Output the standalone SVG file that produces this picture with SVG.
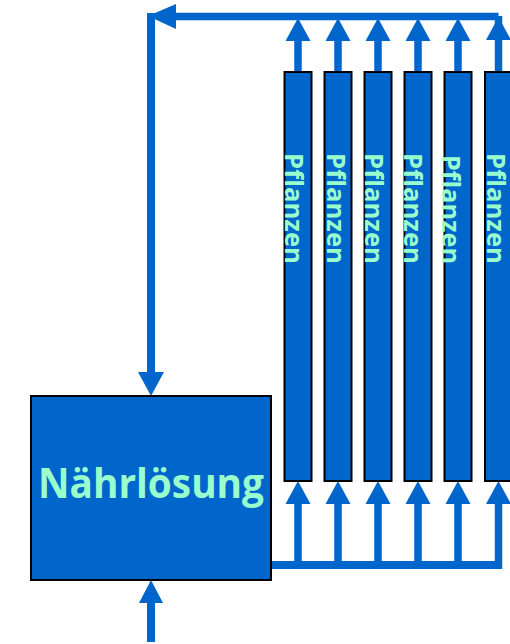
<svg xmlns="http://www.w3.org/2000/svg" width="510" height="644" viewBox="0 0 510 644">
<style>
.ln{stroke:#0066CC;stroke-width:7.5;fill:none}
.ah{fill:#0066CC}
.col{fill:#0066CC;stroke:#000;stroke-width:2}
.pt{font-family:"Open Sans","Liberation Sans",Arial,sans-serif;font-weight:bold;font-size:25px;fill:#99FFCC}
.bt{font-family:"Open Sans","Liberation Sans",Arial,sans-serif;font-weight:bold;font-size:42px;fill:#99FFCC}
</style>
<defs>
<polygon id="up" class="ah" points="-12.5,23 12.5,23 0,0"/>
</defs>
<g id="connectors">
<line class="ln" x1="170" y1="16.5" x2="498.5" y2="16.5"/>
<polygon class="ah" points="148,16 176,4 176,29"/>
<line class="ln" x1="151" y1="13" x2="151" y2="374" style="stroke-width:8"/>
<polygon class="ah" points="138,372 164,372 151,396"/>
<g>
<line class="ln" x1="298" y1="40" x2="298" y2="72"/>
<line class="ln" x1="338" y1="40" x2="338" y2="72"/>
<line class="ln" x1="378" y1="40" x2="378" y2="72"/>
<line class="ln" x1="418" y1="40" x2="418" y2="72"/>
<line class="ln" x1="458" y1="40" x2="458" y2="72"/>
<line class="ln" x1="498.5" y1="16" x2="498.5" y2="72"/>
<use href="#up" x="298" y="18"/>
<use href="#up" x="338" y="18"/>
<use href="#up" x="378" y="18"/>
<use href="#up" x="418" y="18"/>
<use href="#up" x="458" y="18"/>
<use href="#up" x="498.5" y="17"/>
</g>
<line class="ln" x1="270" y1="565" x2="498.5" y2="565" style="stroke-width:8"/>
<g>
<line class="ln" x1="298" y1="503" x2="298" y2="565"/>
<line class="ln" x1="338" y1="503" x2="338" y2="565"/>
<line class="ln" x1="378" y1="503" x2="378" y2="565"/>
<line class="ln" x1="418" y1="503" x2="418" y2="565"/>
<line class="ln" x1="458" y1="503" x2="458" y2="565"/>
<line class="ln" x1="498.5" y1="503" x2="498.5" y2="569"/>
<use href="#up" x="298" y="481"/>
<use href="#up" x="338" y="481"/>
<use href="#up" x="378" y="481"/>
<use href="#up" x="418" y="481"/>
<use href="#up" x="458" y="481"/>
<use href="#up" x="498.5" y="481"/>
</g>
<line class="ln" x1="151" y1="601" x2="151" y2="642" style="stroke-width:8"/>
<polygon class="ah" points="139,603 163,603 151,580"/>
</g>
<g id="box">
<rect x="31" y="396" width="240" height="184" fill="#0066CC" stroke="#000" stroke-width="2"/>
<text class="bt" x="151" y="498" text-anchor="middle" textLength="226" lengthAdjust="spacingAndGlyphs">Nährlösung</text>
</g>
<g id="p1"><rect class="col" x="284.5" y="72" width="27" height="409"/><text class="pt" transform="translate(285,153) rotate(90)" textLength="111" lengthAdjust="spacingAndGlyphs">Pflanzen</text></g>
<g id="p2"><rect class="col" x="324.5" y="72" width="27" height="409"/><text class="pt" transform="translate(326.5,153) rotate(90)" textLength="111" lengthAdjust="spacingAndGlyphs">Pflanzen</text></g>
<g id="p3"><rect class="col" x="364.5" y="72" width="27" height="409"/><text class="pt" transform="translate(365,153) rotate(90)" textLength="111" lengthAdjust="spacingAndGlyphs">Pflanzen</text></g>
<g id="p4"><rect class="col" x="404.5" y="72" width="27" height="409"/><text class="pt" transform="translate(403.5,153) rotate(90)" textLength="111" lengthAdjust="spacingAndGlyphs">Pflanzen</text></g>
<g id="p5"><rect class="col" x="444.5" y="72" width="27" height="409"/><text class="pt" transform="translate(442,155) rotate(90)" textLength="109" lengthAdjust="spacingAndGlyphs">Pflanzen</text></g>
<g id="p6"><rect class="col" x="485" y="72" width="27" height="409"/><text class="pt" transform="translate(486.5,153) rotate(90)" textLength="111" lengthAdjust="spacingAndGlyphs">Pflanzen</text></g>
</svg>
